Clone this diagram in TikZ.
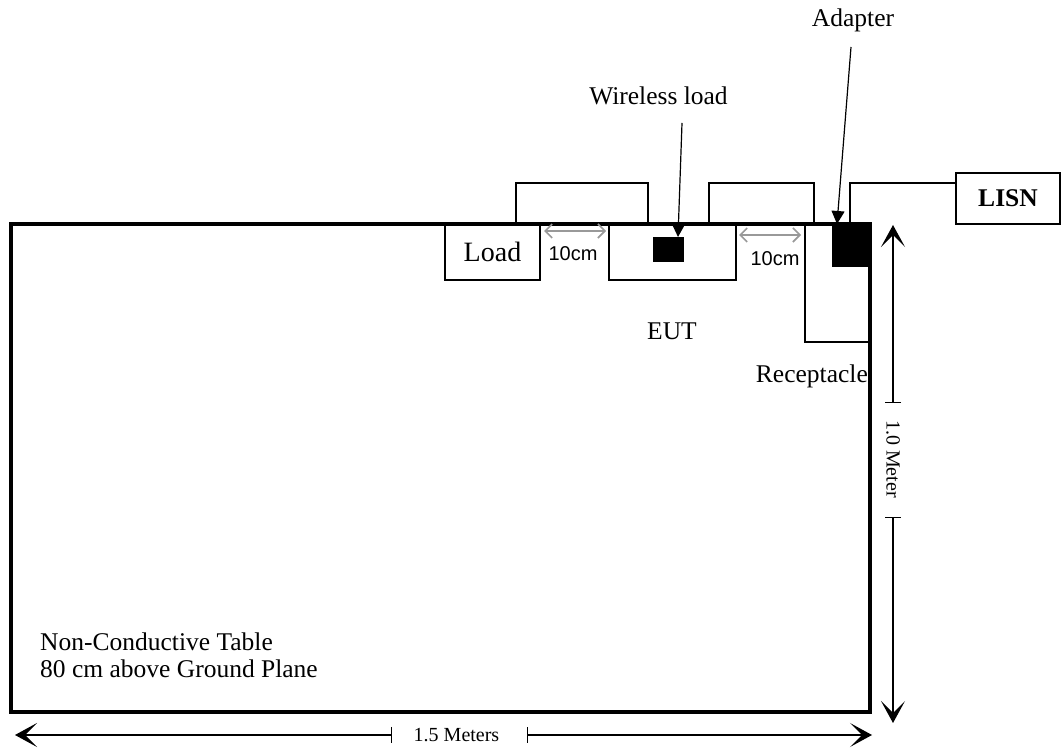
\documentclass[tikz,border=0pt]{standalone}
\usepackage{fontspec}
\setmainfont{Liberation Serif}
\setsansfont{Liberation Sans}
\usetikzlibrary{arrows.meta,positioning}

\begin{document}
\begin{tikzpicture}[x=1pt, y=1pt,
  box/.style={draw, line width=1.8pt, inner sep=0pt, outer sep=0pt},
  blk/.style={fill=black, inner sep=0pt, outer sep=0pt},
  tbl/.style={draw, line width=4pt, inner sep=0pt, outer sep=0pt, minimum width=859pt, minimum height=488pt},
  lbl/.style={inner sep=0pt, anchor=base, font=\fontsize{25.5}{27}\selectfont},
  gaptext/.style={inner sep=0pt, anchor=base, font=\sffamily\fontsize{20}{22}\selectfont},
  dimtext/.style={inner sep=0pt, font=\fontsize{20}{22}\selectfont},
  cable/.style={line width=1.8pt},
  pointer/.style={-{Triangle[length=13pt,width=13pt]}, line width=1.2pt},
  gap/.style={{Straight Barb[length=7pt,width=14pt]}-{Straight Barb[length=7pt,width=14pt]}, line width=1.6pt, black!40},
  dim/.style={{Bar[width=16pt]}-{Stealth[length=22pt,width=24pt,inset=12pt]}, line width=1.3pt}
]
  \useasboundingbox (0,0) rectangle (1062,749);

  % table and the things on it
  \node[tbl] (table) at (440.5,281) {};
  \node[box, minimum width=95pt, minimum height=56pt, font=\fontsize{28}{30}\selectfont] (load) at (492.5,497) {Load};
  \node[box, minimum width=127pt, minimum height=56pt] (eut) at (672.5,497) {};
  \node[blk, minimum width=31pt, minimum height=25pt] (wl) at (668.5,499.5) {};
  \node[box, minimum width=65pt, minimum height=118pt] (rec) at (837.5,466) {};
  \node[blk, minimum width=40pt, minimum height=43pt] (adp) at (852,503.5) {};
  \node[box, minimum width=104pt, minimum height=51pt, font=\bfseries\fontsize{25.5}{27}\selectfont] (lisn) at (1008,550.5) {LISN};

  % labels
  \node[lbl] (wltxt) at (658.5,644) {Wireless load};
  \node[lbl] (adptxt) at (853,722) {Adapter};
  \node[lbl] (euttxt) at (672,409) {EUT};
  \node[lbl, anchor=base east] (rectxt) at (868,366) {Receptacle};
  \node[lbl, align=left, anchor=north west] (tbltxt) at (40,116.5) {Non-Conductive Table\\80 cm above Ground Plane};

  % cables
  \draw[cable] ([xshift=23.5pt]load.north) -- ++(0,41) -| ([xshift=-24.5pt]eut.north);
  \draw[cable] ([xshift=36.5pt]eut.north) -- ++(0,41) -| ([xshift=-23.5pt]rec.north);
  \draw[cable] ([xshift=-2pt]adp.north) |- ([yshift=15.5pt]lisn.west);

  % pointers
  \draw[pointer] ([xshift=23.5pt,yshift=-18pt]wltxt.base) -- ([xshift=9.5pt]wl.north);
  \draw[pointer] ([xshift=-2pt,yshift=-20pt]adptxt.base) -- ([xshift=-15pt]adp.north);

  % 10cm spacings
  \draw[gap] ([xshift=4pt,yshift=-7pt]load.north east) -- ([xshift=-3pt,yshift=-7pt]eut.north west);
  \node[gaptext] (gap1) at (573,488) {10cm};
  \draw[gap] ([xshift=3pt,yshift=-11pt]eut.north east) -- ([xshift=-4pt,yshift=-11pt]rec.north west);
  \node[gaptext] (gap2) at (775,483) {10cm};

  % table size
  \node[dimtext, anchor=base] (wtxt) at (456.5,7) {1.5 Meters};
  \coordinate (wbarl) at (392,14);
  \coordinate (wbarr) at (527,14);
  \coordinate (wtipl) at (15,14);
  \coordinate (wtipr) at (872,14);
  \draw[dim] (wbarl) -- (wtipl);
  \draw[dim] (wbarr) -- (wtipr);

  \node[dimtext, rotate=-90] (htxt) at (893,290) {1.0 Meter};
  \coordinate (hbart) at (893,346);
  \coordinate (hbarb) at (893,232);
  \coordinate (htipt) at (893,524);
  \coordinate (htipb) at (893,26);
  \draw[dim] (hbart) -- (htipt);
  \draw[dim] (hbarb) -- (htipb);
\end{tikzpicture}
\end{document}
